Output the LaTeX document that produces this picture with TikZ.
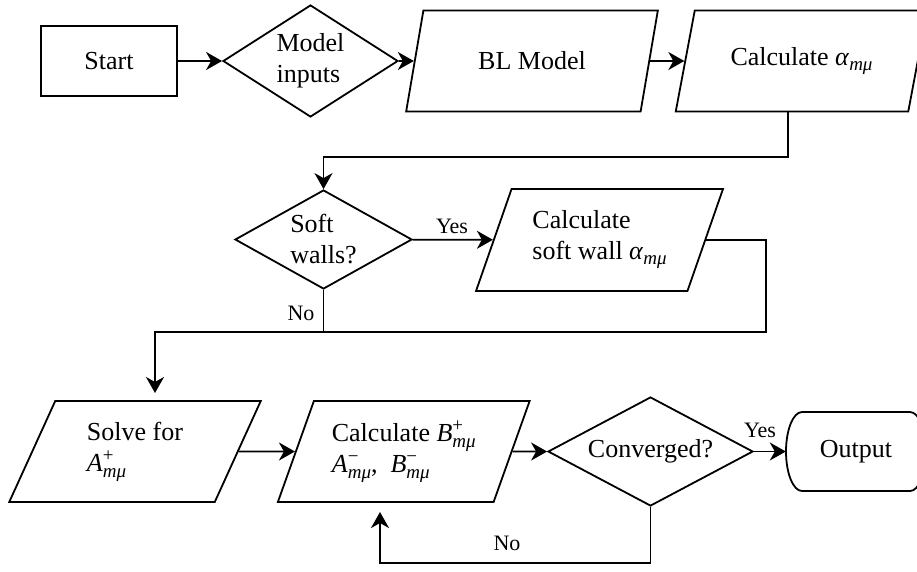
\documentclass[tikz,border=0pt]{standalone}
\usepackage{fontspec}
\setmainfont{Liberation Serif}
\usetikzlibrary{shapes.geometric,arrows.meta}
\newcommand{\scr}[1]{\fontsize{19}{19}\selectfont #1}
\newcommand{\ssub}[1]{\raisebox{-5pt}{\scr{\textit{#1}}}}
\newcommand{\supsub}[2]{\rlap{\raisebox{10pt}{\scr{#1}}}\raisebox{-6pt}{\scr{\textit{#2}}}}
\begin{document}
\begin{tikzpicture}[x=1pt,y=-1pt,
  every node/.style={font=\fontsize{26}{31}\selectfont},
  line/.style={line width=1.8pt},
  arr/.style={line, -{Stealth[length=16pt,width=18pt,inset=5pt]}},
  boxst/.style={draw, line width=1.8pt, inner sep=0pt, align=left},
  para/.style={boxst, trapezium, trapezium left angle=65, trapezium right angle=115,
    minimum width=252pt, minimum height=101pt, trapezium stretches=true},
  dia/.style={boxst, diamond},
  lab/.style={font=\fontsize{22}{26}\selectfont, inner sep=0pt}
]
\useasboundingbox (0,0) rectangle (917,571);

\node[boxst, rectangle, minimum width=136pt, minimum height=70pt] (start) at (109,61) {Start};
\node[dia, minimum width=175pt, minimum height=112pt, shape aspect=1.56] (inputs) at (310.5,61) {Model\\inputs};
\node[para] (bl) at (532,61) {BL Model};
\node[para] (calca) at (801.5,61) {Calculate \textit{α}\ssub{mμ}};

\node[dia, minimum width=177pt, minimum height=99pt, shape aspect=1.79] (soft) at (323.5,239.5) {Soft\\walls?};
\node[para, minimum width=247pt, minimum height=102pt] (calcsw) at (599.5,240) {Calculate\\soft wall \textit{α}\ssub{mμ}};

\node[para] (solve) at (135,451.5) {Solve for\\\textit{A}\supsub{+}{mμ}};
\node[para] (calcb) at (403.75,451.5) {Calculate \textit{B}\supsub{+}{mμ}\\\textit{A}\supsub{\textminus}{mμ},~ \textit{B}\supsub{\textminus}{mμ}};
\node[dia, minimum width=205pt, minimum height=109pt, shape aspect=1.88] (conv) at (650.5,451.5) {Converged?};
\node[inner sep=0pt, rectangle, minimum width=140pt, minimum height=79pt] (out) at (856,451.5) {Output};
\begin{scope}[shift={(out.center)}]
\draw[line] (-54,-39.5) -- (54,-39.5)
  .. controls (62.8,-39.5) and (70,-21.8) .. (70,0)
  .. controls (70,21.8) and (62.8,39.5) .. (54,39.5)
  -- (-54,39.5)
  .. controls (-62.8,39.5) and (-70,21.8) .. (-70,0)
  .. controls (-70,-21.8) and (-62.8,-39.5) .. (-54,-39.5) -- cycle;
\end{scope}

\coordinate (k1) at (323.5,157);
\coordinate (k2) at (155,332);
\coordinate (k3) at (155,393);
\coordinate (k4) at (766,332);
\coordinate (k5) at (380,563);
\coordinate (k6) at (380,512);

\draw[arr] (start) -- (inputs);
\draw[arr] (inputs) -- (bl);
\draw[arr] (bl) -- (calca);
\draw[arr] ([xshift=-13.5pt]calca.south) |- (k1) -- (soft.north);
\draw[arr] (soft) -- (calcsw);
\draw[arr] (calcsw.east) -| (k4) -- (k2) -- (k3);
\draw[line] (soft.south) -- (soft.south |- k2);
\draw[arr] (solve) -- (calcb);
\draw[arr] (calcb) -- (conv);
\draw[arr] (conv) -- (out);
\draw[arr] (conv.south) |- (k5) -- (k6);

\node[lab] (yes1) at (452,226) {Yes};
\node[lab] (no1) at (301,313) {No};
\node[lab] (yes2) at (760,430) {Yes};
\node[lab] (no2) at (507,543) {No};
\end{tikzpicture}
\end{document}
